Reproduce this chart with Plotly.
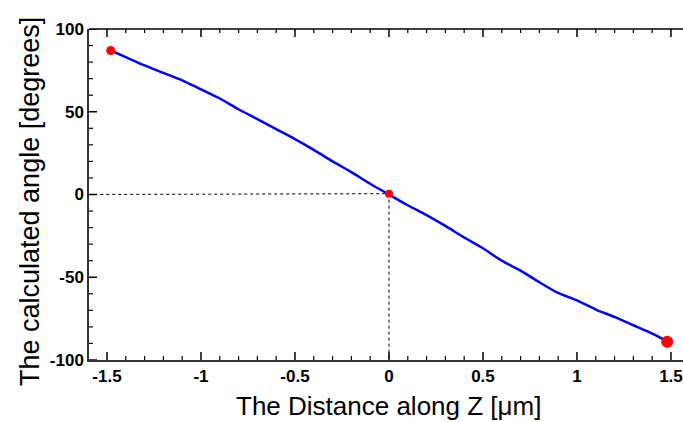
import plotly.graph_objects as go

# Data
z_vals = [-1.48, -1.4, -1.3, -1.2, -1.1, -1.0, -0.9, -0.8, -0.7, -0.6, -0.5, -0.4, -0.3, -0.2, -0.1,
          0.0, 0.1, 0.2, 0.3, 0.4, 0.5, 0.6, 0.7, 0.8, 0.9, 1.0, 1.1, 1.2, 1.3, 1.4, 1.47]
angle_vals = [87, 83, 78, 73.5, 69, 63.5, 58, 51.5, 45.5, 39.5, 33.5, 27, 20, 13.5, 6.5,
              0, -6.5, -12.5, -19, -26, -32.5, -40, -46, -53, -59.5, -64, -69.5, -74, -79, -84, -88]
marker_z = [-1.48, 0.0, 1.48]
marker_angle = [87, 0.5, -89]
marker_sizes = [9, 8, 12]
guide_h_z = [-1.6, 0.0]
guide_h_angle = [0.0, 0.5]
guide_v_z = [0.0, 0.0]
guide_v_angle = [0.5, -100]
x_ticks = [-1.5, -1, -0.5, 0, 0.5, 1, 1.5]
x_ticktext = ["-1.5", "-1", "-0.5", "0", "0.5", "1", "1.5"]
x_minor = [round(-1.5 + 0.1 * i, 2) for i in range(31)]
y_ticks = [-100, -50, 0, 50, 100]
y_ticktext = ["-100", "-50", "0", "50", "100"]
y_minor = [-100 + 10 * i for i in range(21)]

X_RANGE = [-1.5957, 1.564]
Y_RANGE = [-100, 100]
AX_COLOR = "#333"
TICK_COLOR = "#000000"

W, H = 683, 422
ML, MR, MT, MB = 89, 0, 29, 62
px_per_x = (W - ML - MR) / (X_RANGE[1] - X_RANGE[0])
px_per_y = (H - MT - MB) / (Y_RANGE[1] - Y_RANGE[0])
MAJOR_LEN, MINOR_LEN = 8, 4

fig = go.Figure()
fig.add_trace(go.Scatter(x=guide_h_z, y=guide_h_angle, mode="lines",
                         line=dict(color="black", width=1, dash="dot"), hoverinfo="skip"))
fig.add_trace(go.Scatter(x=guide_v_z, y=guide_v_angle, mode="lines",
                         line=dict(color="black", width=1, dash="dot"), hoverinfo="skip"))
fig.add_trace(go.Scatter(x=z_vals, y=angle_vals, mode="lines",
                         line=dict(color="#0000ff", width=2.5, shape="spline", smoothing=0.8)))
fig.add_trace(go.Scatter(x=marker_z, y=marker_angle, mode="markers",
                         marker=dict(color="#ff0000", size=marker_sizes, opacity=1,
                                     line=dict(width=0))))

# x tick marks (inside, bottom and mirrored on top)
for v in x_minor:
    major = any(abs(v - m) < 1e-9 for m in x_ticks)
    L = (MAJOR_LEN if major else MINOR_LEN) / px_per_y
    wdt = 1.5 if major else 1.2
    fig.add_trace(go.Scatter(x=[v, v], y=[Y_RANGE[0], Y_RANGE[0] + L], mode="lines",
                             line=dict(color=TICK_COLOR, width=wdt), hoverinfo="skip"))
    fig.add_trace(go.Scatter(x=[v, v], y=[Y_RANGE[1], Y_RANGE[1] - L], mode="lines",
                             line=dict(color=TICK_COLOR, width=wdt), hoverinfo="skip"))

# y tick marks (inside, left)
for v in y_minor:
    major = any(abs(v - m) < 1e-9 for m in y_ticks)
    L = (MAJOR_LEN if major else MINOR_LEN) / px_per_x
    wdt = 1.5 if major else 1.2
    fig.add_trace(go.Scatter(x=[X_RANGE[0], X_RANGE[0] + L], y=[v, v], mode="lines",
                             line=dict(color=TICK_COLOR, width=wdt), hoverinfo="skip"))

font_family = "Liberation Sans, Arial, sans-serif"
fig.update_layout(
    width=W, height=H,
    margin=dict(l=ML, r=MR, t=MT, b=MB),
    paper_bgcolor="white", plot_bgcolor="white",
    showlegend=False,
    font=dict(family=font_family, color="black"),
    shapes=[dict(type="line", xref="paper", yref="paper", x0=0, x1=1, y0=1, y1=1,
                 line=dict(color=TICK_COLOR, width=1.5))],
    xaxis=dict(range=X_RANGE, tickmode="array", tickvals=x_ticks, ticktext=x_ticktext,
               ticks="", showgrid=False, zeroline=False, showline=True,
               linecolor=AX_COLOR, linewidth=1.5,
               tickfont=dict(size=17, family=font_family, weight="bold")),
    yaxis=dict(range=Y_RANGE, tickmode="array", tickvals=y_ticks, ticktext=y_ticktext,
               ticks="", showgrid=False, zeroline=False, showline=True,
               linecolor=AX_COLOR, linewidth=1.5,
               tickfont=dict(size=17, family=font_family, weight="bold")),
    annotations=[
        dict(text="The calculated angle [degrees]", xref="paper", yref="paper",
             x=(30 - ML) / (W - ML - MR), y=(H - MB - 202) / (H - MT - MB),
             xanchor="center", yanchor="middle",
             textangle=-90, showarrow=False, font=dict(size=27, family=font_family)),
        dict(text="The Distance along Z [\u03bcm]", xref="paper", yref="paper",
             x=(388 - ML) / (W - ML - MR), y=(H - MB - 406) / (H - MT - MB),
             xanchor="center", yanchor="middle",
             showarrow=False, font=dict(size=26, family=font_family)),
    ],
)

fig.write_html("out.html")
